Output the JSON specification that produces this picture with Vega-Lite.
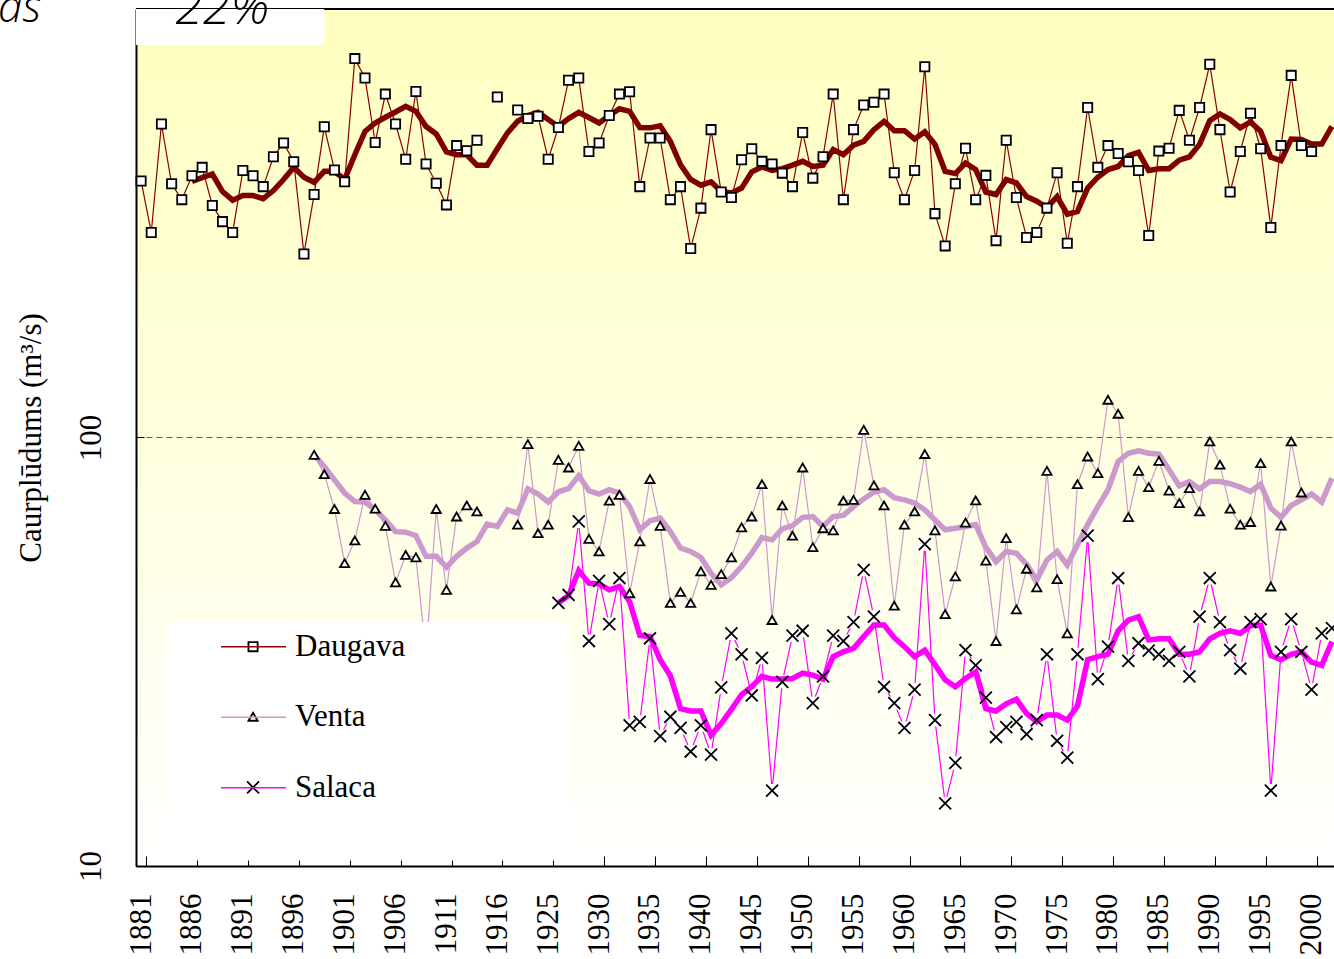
{
 "$schema": "https://vega.github.io/schema/vega-lite/v6.json",
 "width": 1198,
 "height": 857,
 "autosize": {"type": "none"},
 "padding": {"left": 136, "top": 9, "right": 0, "bottom": 93},
 "background": "white",
 "view": {"fill": {"gradient": "linear", "x1": 0, "y1": 0, "x2": 0, "y2": 1, "stops": [{"offset": 0, "color": "#FFFFC0"}, {"offset": 1, "color": "#FFFFFF"}]}, "stroke": null},
 "datasets": {
  "flows": [
   {"year":"1881","river":"Daugava","flow":397,"trend":null},
   {"year":"1882","river":"Daugava","flow":301,"trend":null},
   {"year":"1883","river":"Daugava","flow":539,"trend":null},
   {"year":"1884","river":"Daugava","flow":391,"trend":null},
   {"year":"1885","river":"Daugava","flow":359,"trend":null},
   {"year":"1886","river":"Daugava","flow":408,"trend":396},
   {"year":"1887","river":"Daugava","flow":427,"trend":404},
   {"year":"1888","river":"Daugava","flow":348,"trend":412},
   {"year":"1889","river":"Daugava","flow":319,"trend":375},
   {"year":"1890","river":"Daugava","flow":301,"trend":358},
   {"year":"1891","river":"Daugava","flow":420,"trend":367},
   {"year":"1892","river":"Daugava","flow":408,"trend":367},
   {"year":"1893","river":"Daugava","flow":385,"trend":361},
   {"year":"1894","river":"Daugava","flow":452,"trend":377},
   {"year":"1895","river":"Daugava","flow":487,"trend":400},
   {"year":"1896","river":"Daugava","flow":440,"trend":427},
   {"year":"1897","river":"Daugava","flow":268,"trend":405},
   {"year":"1898","river":"Daugava","flow":369,"trend":394},
   {"year":"1899","river":"Daugava","flow":531,"trend":418},
   {"year":"1900","river":"Daugava","flow":421,"trend":418},
   {"year":"1901","river":"Daugava","flow":395,"trend":400},
   {"year":"1902","river":"Daugava","flow":766,"trend":457},
   {"year":"1903","river":"Daugava","flow":690,"trend":518},
   {"year":"1904","river":"Daugava","flow":488,"trend":542},
   {"year":"1905","river":"Daugava","flow":633,"trend":559},
   {"year":"1906","river":"Daugava","flow":539,"trend":575},
   {"year":"1907","river":"Daugava","flow":446,"trend":593},
   {"year":"1908","river":"Daugava","flow":642,"trend":577},
   {"year":"1909","river":"Daugava","flow":435,"trend":532},
   {"year":"1910","river":"Daugava","flow":392,"trend":511},
   {"year":"1911","river":"Daugava","flow":349,"trend":464},
   {"year":"1912","river":"Daugava","flow":480,"trend":457},
   {"year":"1913","river":"Daugava","flow":467,"trend":457},
   {"year":"1914","river":"Daugava","flow":494,"trend":432},
   {"year":"1915","river":"Daugava","flow":null,"trend":432},
   {"year":"1916","river":"Daugava","flow":623,"trend":472},
   {"year":"1921","river":"Daugava","flow":null,"trend":514},
   {"year":"1922","river":"Daugava","flow":581,"trend":547},
   {"year":"1923","river":"Daugava","flow":555,"trend":564},
   {"year":"1924","river":"Daugava","flow":562,"trend":574},
   {"year":"1925","river":"Daugava","flow":446,"trend":552},
   {"year":"1926","river":"Daugava","flow":529,"trend":532},
   {"year":"1927","river":"Daugava","flow":682,"trend":555},
   {"year":"1928","river":"Daugava","flow":690,"trend":574},
   {"year":"1929","river":"Daugava","flow":465,"trend":558},
   {"year":"1930","river":"Daugava","flow":487,"trend":542},
   {"year":"1931","river":"Daugava","flow":564,"trend":564},
   {"year":"1932","river":"Daugava","flow":633,"trend":585},
   {"year":"1933","river":"Daugava","flow":641,"trend":577},
   {"year":"1934","river":"Daugava","flow":385,"trend":529},
   {"year":"1935","river":"Daugava","flow":500,"trend":528},
   {"year":"1936","river":"Daugava","flow":500,"trend":534},
   {"year":"1937","river":"Daugava","flow":359,"trend":491},
   {"year":"1938","river":"Daugava","flow":385,"trend":433},
   {"year":"1939","river":"Daugava","flow":276,"trend":400},
   {"year":"1940","river":"Daugava","flow":343,"trend":388},
   {"year":"1941","river":"Daugava","flow":523,"trend":395},
   {"year":"1942","river":"Daugava","flow":374,"trend":375},
   {"year":"1943","river":"Daugava","flow":363,"trend":372},
   {"year":"1944","river":"Daugava","flow":445,"trend":382},
   {"year":"1945","river":"Daugava","flow":472,"trend":417},
   {"year":"1946","river":"Daugava","flow":441,"trend":428},
   {"year":"1947","river":"Daugava","flow":435,"trend":420},
   {"year":"1948","river":"Daugava","flow":414,"trend":424},
   {"year":"1949","river":"Daugava","flow":385,"trend":432},
   {"year":"1950","river":"Daugava","flow":515,"trend":441},
   {"year":"1951","river":"Daugava","flow":403,"trend":429},
   {"year":"1952","river":"Daugava","flow":452,"trend":432},
   {"year":"1953","river":"Daugava","flow":633,"trend":470},
   {"year":"1954","river":"Daugava","flow":359,"trend":457},
   {"year":"1955","river":"Daugava","flow":523,"trend":481},
   {"year":"1956","river":"Daugava","flow":597,"trend":491},
   {"year":"1957","river":"Daugava","flow":606,"trend":523},
   {"year":"1958","river":"Daugava","flow":633,"trend":547},
   {"year":"1959","river":"Daugava","flow":415,"trend":520},
   {"year":"1960","river":"Daugava","flow":359,"trend":520},
   {"year":"1961","river":"Daugava","flow":420,"trend":497},
   {"year":"1962","river":"Daugava","flow":733,"trend":517},
   {"year":"1963","river":"Daugava","flow":333,"trend":483},
   {"year":"1964","river":"Daugava","flow":280,"trend":418},
   {"year":"1965","river":"Daugava","flow":391,"trend":413},
   {"year":"1966","river":"Daugava","flow":473,"trend":437},
   {"year":"1967","river":"Daugava","flow":359,"trend":422},
   {"year":"1968","river":"Daugava","flow":409,"trend":374},
   {"year":"1969","river":"Daugava","flow":288,"trend":369},
   {"year":"1970","river":"Daugava","flow":494,"trend":400},
   {"year":"1971","river":"Daugava","flow":363,"trend":393},
   {"year":"1972","river":"Daugava","flow":293,"trend":365},
   {"year":"1973","river":"Daugava","flow":301,"trend":356},
   {"year":"1974","river":"Daugava","flow":343,"trend":344},
   {"year":"1975","river":"Daugava","flow":415,"trend":365},
   {"year":"1976","river":"Daugava","flow":284,"trend":332},
   {"year":"1977","river":"Daugava","flow":385,"trend":337},
   {"year":"1978","river":"Daugava","flow":589,"trend":382},
   {"year":"1979","river":"Daugava","flow":427,"trend":405},
   {"year":"1980","river":"Daugava","flow":480,"trend":422},
   {"year":"1981","river":"Daugava","flow":460,"trend":429},
   {"year":"1982","river":"Daugava","flow":440,"trend":455},
   {"year":"1983","river":"Daugava","flow":420,"trend":463},
   {"year":"1984","river":"Daugava","flow":296,"trend":420},
   {"year":"1985","river":"Daugava","flow":466,"trend":424},
   {"year":"1986","river":"Daugava","flow":473,"trend":424},
   {"year":"1987","river":"Daugava","flow":580,"trend":444},
   {"year":"1988","river":"Daugava","flow":494,"trend":452},
   {"year":"1989","river":"Daugava","flow":589,"trend":483},
   {"year":"1990","river":"Daugava","flow":743,"trend":549},
   {"year":"1991","river":"Daugava","flow":523,"trend":569},
   {"year":"1992","river":"Daugava","flow":374,"trend":552},
   {"year":"1993","river":"Daugava","flow":465,"trend":528},
   {"year":"1994","river":"Daugava","flow":571,"trend":545},
   {"year":"1995","river":"Daugava","flow":472,"trend":518},
   {"year":"1996","river":"Daugava","flow":309,"trend":451},
   {"year":"1997","river":"Daugava","flow":480,"trend":443},
   {"year":"1998","river":"Daugava","flow":700,"trend":497},
   {"year":"1999","river":"Daugava","flow":480,"trend":496},
   {"year":"2000","river":"Daugava","flow":465,"trend":484},
   {"year":"2001","river":"Daugava","flow":null,"trend":484},
   {"year":"2002","river":"Daugava","flow":null,"trend":532},
   {"year":"1898","river":"Venta","flow":91.1,"trend":91.1},
   {"year":"1899","river":"Venta","flow":82.1,"trend":85.6},
   {"year":"1900","river":"Venta","flow":68.1,"trend":79.6},
   {"year":"1901","river":"Venta","flow":50.9,"trend":74.2},
   {"year":"1902","river":"Venta","flow":57.5,"trend":70.9},
   {"year":"1903","river":"Venta","flow":73.5,"trend":70.7},
   {"year":"1904","river":"Venta","flow":68.2,"trend":67.8},
   {"year":"1905","river":"Venta","flow":62.2,"trend":64.2},
   {"year":"1906","river":"Venta","flow":45.9,"trend":60.3},
   {"year":"1907","river":"Venta","flow":53.2,"trend":60.1},
   {"year":"1908","river":"Venta","flow":52.5,"trend":59.0},
   {"year":"1909","river":"Venta","flow":31.3,"trend":52.8},
   {"year":"1910","river":"Venta","flow":68.1,"trend":52.8},
   {"year":"1911","river":"Venta","flow":44.1,"trend":49.8},
   {"year":"1912","river":"Venta","flow":65.4,"trend":52.8},
   {"year":"1913","river":"Venta","flow":69.4,"trend":55.2},
   {"year":"1914","river":"Venta","flow":67.2,"trend":57.2},
   {"year":"1915","river":"Venta","flow":null,"trend":62.8},
   {"year":"1916","river":"Venta","flow":null,"trend":62.0},
   {"year":"1921","river":"Venta","flow":null,"trend":67.8},
   {"year":"1922","river":"Venta","flow":62.6,"trend":66.6},
   {"year":"1923","river":"Venta","flow":96.5,"trend":75.9},
   {"year":"1924","river":"Venta","flow":59.8,"trend":73.8},
   {"year":"1925","river":"Venta","flow":62.6,"trend":70.7},
   {"year":"1926","river":"Venta","flow":88.7,"trend":74.7},
   {"year":"1927","river":"Venta","flow":85.1,"trend":76.0},
   {"year":"1928","river":"Venta","flow":95.6,"trend":81.5},
   {"year":"1929","river":"Venta","flow":58.0,"trend":75.1},
   {"year":"1930","river":"Venta","flow":54.2,"trend":73.8},
   {"year":"1931","river":"Venta","flow":71.2,"trend":75.5},
   {"year":"1932","river":"Venta","flow":73.5,"trend":74.2},
   {"year":"1933","river":"Venta","flow":43.3,"trend":69.0},
   {"year":"1934","river":"Venta","flow":57.2,"trend":60.9},
   {"year":"1935","river":"Venta","flow":80.0,"trend":63.9},
   {"year":"1936","river":"Venta","flow":62.2,"trend":64.8},
   {"year":"1937","river":"Venta","flow":41.1,"trend":60.3},
   {"year":"1938","river":"Venta","flow":43.6,"trend":55.2},
   {"year":"1939","river":"Venta","flow":41.1,"trend":54.2},
   {"year":"1940","river":"Venta","flow":48.7,"trend":52.5},
   {"year":"1941","river":"Venta","flow":45.3,"trend":48.2},
   {"year":"1942","river":"Venta","flow":48.0,"trend":45.3},
   {"year":"1943","river":"Venta","flow":52.5,"trend":47.1},
   {"year":"1944","river":"Venta","flow":61.7,"trend":50.0},
   {"year":"1945","river":"Venta","flow":65.4,"trend":53.7},
   {"year":"1946","river":"Venta","flow":77.8,"trend":58.4},
   {"year":"1947","river":"Venta","flow":37.5,"trend":57.7},
   {"year":"1948","river":"Venta","flow":69.4,"trend":61.2},
   {"year":"1949","river":"Venta","flow":59.0,"trend":62.3},
   {"year":"1950","river":"Venta","flow":85.1,"trend":65.1},
   {"year":"1951","river":"Venta","flow":55.5,"trend":65.4},
   {"year":"1952","river":"Venta","flow":61.4,"trend":62.0},
   {"year":"1953","river":"Venta","flow":60.7,"trend":65.4},
   {"year":"1954","river":"Venta","flow":71.2,"trend":65.8},
   {"year":"1955","river":"Venta","flow":71.5,"trend":69.0},
   {"year":"1956","river":"Venta","flow":104.2,"trend":71.9},
   {"year":"1957","river":"Venta","flow":77.3,"trend":74.6},
   {"year":"1958","river":"Venta","flow":69.4,"trend":75.5},
   {"year":"1959","river":"Venta","flow":40.5,"trend":72.4},
   {"year":"1960","river":"Venta","flow":62.6,"trend":71.5},
   {"year":"1961","river":"Venta","flow":67.2,"trend":70.3},
   {"year":"1962","river":"Venta","flow":91.5,"trend":67.8},
   {"year":"1963","river":"Venta","flow":60.7,"trend":64.2},
   {"year":"1964","river":"Venta","flow":38.7,"trend":60.9},
   {"year":"1965","river":"Venta","flow":47.4,"trend":61.4},
   {"year":"1966","river":"Venta","flow":63.3,"trend":62.0},
   {"year":"1967","river":"Venta","flow":71.3,"trend":62.6},
   {"year":"1968","river":"Venta","flow":51.6,"trend":55.4},
   {"year":"1969","river":"Venta","flow":33.5,"trend":51.3},
   {"year":"1970","river":"Venta","flow":58.2,"trend":54.2},
   {"year":"1971","river":"Venta","flow":39.7,"trend":53.7},
   {"year":"1972","river":"Venta","flow":49.4,"trend":50.6},
   {"year":"1973","river":"Venta","flow":44.7,"trend":46.5},
   {"year":"1974","river":"Venta","flow":83.6,"trend":51.8},
   {"year":"1975","river":"Venta","flow":46.7,"trend":54.2},
   {"year":"1976","river":"Venta","flow":34.9,"trend":50.4},
   {"year":"1977","river":"Venta","flow":77.8,"trend":56.2},
   {"year":"1978","river":"Venta","flow":90.3,"trend":62.6},
   {"year":"1979","river":"Venta","flow":82.6,"trend":69.0},
   {"year":"1980","river":"Venta","flow":122.5,"trend":75.5},
   {"year":"1981","river":"Venta","flow":113.6,"trend":87.9},
   {"year":"1982","river":"Venta","flow":65.2,"trend":91.9},
   {"year":"1983","river":"Venta","flow":83.6,"trend":93.1},
   {"year":"1984","river":"Venta","flow":76.6,"trend":91.9},
   {"year":"1985","river":"Venta","flow":88.2,"trend":91.5},
   {"year":"1986","river":"Venta","flow":75.2,"trend":84.1},
   {"year":"1987","river":"Venta","flow":70.3,"trend":77.1},
   {"year":"1988","river":"Venta","flow":76.2,"trend":78.9},
   {"year":"1989","river":"Venta","flow":67.2,"trend":75.9},
   {"year":"1990","river":"Venta","flow":97.9,"trend":78.9},
   {"year":"1991","river":"Venta","flow":86.4,"trend":78.9},
   {"year":"1992","river":"Venta","flow":68.2,"trend":78.0},
   {"year":"1993","river":"Venta","flow":62.6,"trend":76.6},
   {"year":"1994","river":"Venta","flow":63.5,"trend":74.8},
   {"year":"1995","river":"Venta","flow":87.1,"trend":77.8},
   {"year":"1996","river":"Venta","flow":44.9,"trend":68.4},
   {"year":"1997","river":"Venta","flow":62.3,"trend":65.1},
   {"year":"1998","river":"Venta","flow":97.9,"trend":69.4},
   {"year":"1999","river":"Venta","flow":74.4,"trend":71.5},
   {"year":"2000","river":"Venta","flow":null,"trend":73.8},
   {"year":"2001","river":"Venta","flow":null,"trend":70.7},
   {"year":"2002","river":"Venta","flow":null,"trend":80.4},
   {"year":"1926","river":"Salaca","flow":41.1,"trend":41.1},
   {"year":"1927","river":"Salaca","flow":42.9,"trend":42.8},
   {"year":"1928","river":"Salaca","flow":63.7,"trend":48.9},
   {"year":"1929","river":"Salaca","flow":33.5,"trend":45.7},
   {"year":"1930","river":"Salaca","flow":46.3,"trend":45.5},
   {"year":"1931","river":"Salaca","flow":36.7,"trend":44.1},
   {"year":"1932","river":"Salaca","flow":47.0,"trend":44.9},
   {"year":"1933","river":"Salaca","flow":21.3,"trend":41.4},
   {"year":"1934","river":"Salaca","flow":21.7,"trend":34.5},
   {"year":"1935","river":"Salaca","flow":34.0,"trend":34.3},
   {"year":"1936","river":"Salaca","flow":20.1,"trend":30.3},
   {"year":"1937","river":"Salaca","flow":22.3,"trend":27.8},
   {"year":"1938","river":"Salaca","flow":21.0,"trend":23.3},
   {"year":"1939","river":"Salaca","flow":18.5,"trend":23.0},
   {"year":"1940","river":"Salaca","flow":21.3,"trend":23.0},
   {"year":"1941","river":"Salaca","flow":18.2,"trend":20.2},
   {"year":"1942","river":"Salaca","flow":26.1,"trend":21.5},
   {"year":"1943","river":"Salaca","flow":34.9,"trend":23.2},
   {"year":"1944","river":"Salaca","flow":31.2,"trend":25.1},
   {"year":"1945","river":"Salaca","flow":25.0,"trend":26.2},
   {"year":"1946","river":"Salaca","flow":30.6,"trend":27.7},
   {"year":"1947","river":"Salaca","flow":15.0,"trend":27.3},
   {"year":"1948","river":"Salaca","flow":26.9,"trend":27.3},
   {"year":"1949","river":"Salaca","flow":34.5,"trend":27.4},
   {"year":"1950","river":"Salaca","flow":35.4,"trend":28.2},
   {"year":"1951","river":"Salaca","flow":24.0,"trend":27.9},
   {"year":"1952","river":"Salaca","flow":27.7,"trend":27.3},
   {"year":"1953","river":"Salaca","flow":34.5,"trend":30.8},
   {"year":"1954","river":"Salaca","flow":33.5,"trend":31.6},
   {"year":"1955","river":"Salaca","flow":37.1,"trend":32.2},
   {"year":"1956","river":"Salaca","flow":49.1,"trend":34.3},
   {"year":"1957","river":"Salaca","flow":38.2,"trend":36.5},
   {"year":"1958","river":"Salaca","flow":26.2,"trend":36.5},
   {"year":"1959","river":"Salaca","flow":24.0,"trend":34.1},
   {"year":"1960","river":"Salaca","flow":21.0,"trend":32.5},
   {"year":"1961","river":"Salaca","flow":25.8,"trend":30.8},
   {"year":"1962","river":"Salaca","flow":56.4,"trend":31.9},
   {"year":"1963","river":"Salaca","flow":21.9,"trend":29.5},
   {"year":"1964","river":"Salaca","flow":14.0,"trend":27.2},
   {"year":"1965","river":"Salaca","flow":17.4,"trend":26.2},
   {"year":"1966","river":"Salaca","flow":31.9,"trend":27.4},
   {"year":"1967","river":"Salaca","flow":29.4,"trend":28.4},
   {"year":"1968","river":"Salaca","flow":24.7,"trend":23.3},
   {"year":"1969","river":"Salaca","flow":20.0,"trend":23.0},
   {"year":"1970","river":"Salaca","flow":21.1,"trend":23.9},
   {"year":"1971","river":"Salaca","flow":21.7,"trend":24.5},
   {"year":"1972","river":"Salaca","flow":20.3,"trend":22.7},
   {"year":"1973","river":"Salaca","flow":21.9,"trend":21.7},
   {"year":"1974","river":"Salaca","flow":31.2,"trend":22.5},
   {"year":"1975","river":"Salaca","flow":19.6,"trend":22.5},
   {"year":"1976","river":"Salaca","flow":17.9,"trend":21.9},
   {"year":"1977","river":"Salaca","flow":31.2,"trend":23.6},
   {"year":"1978","river":"Salaca","flow":59.0,"trend":30.3},
   {"year":"1979","river":"Salaca","flow":27.3,"trend":30.8},
   {"year":"1980","river":"Salaca","flow":32.5,"trend":31.2},
   {"year":"1981","river":"Salaca","flow":47.0,"trend":35.4},
   {"year":"1982","river":"Salaca","flow":30.1,"trend":37.5},
   {"year":"1983","river":"Salaca","flow":33.1,"trend":38.2},
   {"year":"1984","river":"Salaca","flow":31.8,"trend":33.7},
   {"year":"1985","river":"Salaca","flow":31.2,"trend":33.9},
   {"year":"1986","river":"Salaca","flow":30.1,"trend":33.9},
   {"year":"1987","river":"Salaca","flow":31.6,"trend":31.2},
   {"year":"1988","river":"Salaca","flow":27.7,"trend":31.2},
   {"year":"1989","river":"Salaca","flow":38.2,"trend":31.6},
   {"year":"1990","river":"Salaca","flow":47.0,"trend":33.9},
   {"year":"1991","river":"Salaca","flow":37.1,"trend":34.9},
   {"year":"1992","river":"Salaca","flow":31.9,"trend":35.4},
   {"year":"1993","river":"Salaca","flow":28.9,"trend":34.9},
   {"year":"1994","river":"Salaca","flow":37.1,"trend":36.4},
   {"year":"1995","river":"Salaca","flow":37.7,"trend":36.5},
   {"year":"1996","river":"Salaca","flow":15.0,"trend":31.0},
   {"year":"1997","river":"Salaca","flow":31.6,"trend":30.3},
   {"year":"1998","river":"Salaca","flow":37.7,"trend":31.2},
   {"year":"1999","river":"Salaca","flow":31.6,"trend":31.6},
   {"year":"2000","river":"Salaca","flow":25.8,"trend":29.9},
   {"year":"2001","river":"Salaca","flow":34.9,"trend":29.4},
   {"year":"2002","river":"Salaca","flow":35.9,"trend":33.4}
  ],
  "boxes": [
   {"year":"1881","year_end":"1899","lo":824,"hi":1000},
   {"year":"1884","year_end":"1927","lo":10.3,"hi":37.1}
  ],
  "border": [{"top": 1000}],
  "keymarks": [
   {"year":"1892","river":"Daugava","level":32.5},
   {"year":"1892","river":"Venta","level":22.3},
   {"year":"1892","river":"Salaca","level":15.25}
  ],
  "notes": [{"year":"1889","level":923,"label":"22%"}],
  "notesleft": [{"year":"1881","level":933,"label":"as"}]
 },
 "layer": [
  {
   "data": {"name": "flows"},
   "mark": {"type": "line", "strokeWidth": 1.2},
   "encoding": {
    "x": {"field": "year", "type": "ordinal",
      "scale": {"type": "band", "paddingInner": 0, "paddingOuter": 0, "rangeMax": 1201},
      "axis": {"title": null, "values": ["1881","1886","1891","1896","1901","1906","1911","1916","1925","1930","1935","1940","1945","1950","1955","1960","1965","1970","1975","1980","1985","1990","1995","2000"],
        "labelAngle": 270, "labelOverlap": false, "labelFont": "Liberation Serif", "labelFontSize": 31, "labelColor": "black",
        "labelPadding": 37, "ticks": true, "tickSize": -10, "tickColor": "black", "tickWidth": 1, "tickBand": "extent",
        "domainColor": "black", "domainWidth": 2, "grid": false}},
    "y": {"field": "flow", "type": "quantitative",
      "scale": {"type": "log", "domain": [10, 1000], "nice": false},
      "axis": {"title": "Caurplūdums (m³/s)", "values": [10, 100], "format": "d",
        "labelAngle": 270, "labelAlign": "center", "labelBaseline": "alphabetic",
        "labelFont": "Liberation Serif", "labelFontSize": 31, "labelColor": "black", "labelPadding": 44,
        "ticks": true, "tickSize": -8, "tickColor": "black", "tickWidth": 1,
        "grid": true, "gridDash": [6, 4], "gridColor": "#606060", "gridWidth": 1,
        "domainColor": "black", "domainWidth": 2,
        "titleFont": "Liberation Serif", "titleFontSize": 31, "titleFontWeight": "normal", "titleColor": "black", "titlePadding": 28}},
    "color": {"field": "river", "type": "nominal",
      "scale": {"domain": ["Daugava", "Venta", "Salaca"], "range": ["#8B0000", "#CC99CC", "#FF00FF"]},
      "legend": {"orient": "none", "legendX": 84, "legendY": 617.7, "title": null, "direction": "vertical",
        "symbolType": "M-1,0H1", "symbolSize": 4225, "symbolStrokeWidth": 1.5,
        "clipHeight": 40, "rowPadding": 30.5, "padding": 0,
        "labelFont": "Liberation Serif", "labelFontSize": 31, "labelColor": "black", "labelOffset": 8, "labelLimit": 300,
        "zindex": 1}}
   }
  },
  {
   "data": {"name": "flows"},
   "transform": [{"filter": "datum.river === 'Salaca'"}],
   "mark": {"type": "point", "shape": "square", "size": 170, "filled": true, "color": "white", "opacity": 1},
   "encoding": {
    "x": {"field": "year", "type": "ordinal"},
    "y": {"field": "flow", "type": "quantitative"}
   }
  },
  {
   "data": {"name": "flows"},
   "mark": {"type": "line", "strokeWidth": 5.5},
   "encoding": {
    "x": {"field": "year", "type": "ordinal"},
    "y": {"field": "trend", "type": "quantitative"},
    "stroke": {"field": "river", "type": "nominal",
      "scale": {"domain": ["Daugava", "Venta", "Salaca"], "range": ["#800000", "#CC99CC", "#FF00FF"]},
      "legend": null}
   }
  },
  {
   "data": {"name": "flows"},
   "mark": {"type": "point", "size": 85, "filled": false, "color": "black", "fill": "white", "stroke": "black", "strokeWidth": 1.8, "opacity": 1},
   "encoding": {
    "x": {"field": "year", "type": "ordinal"},
    "y": {"field": "flow", "type": "quantitative"},
    "shape": {"field": "river", "type": "nominal", "sort": ["Daugava", "Venta", "Salaca"],
      "scale": {"range": ["square", "triangle-up", "M-1.3,-1.3L1.3,1.3M1.3,-1.3L-1.3,1.3"]},
      "legend": null}
   }
  },
  {
   "data": {"name": "border"},
   "mark": {"type": "rule", "color": "black", "strokeWidth": 2},
   "encoding": {"y": {"field": "top", "type": "quantitative"}}
  },
  {
   "data": {"name": "boxes"},
   "mark": {"type": "rect", "color": "white", "opacity": 1},
   "encoding": {
    "x": {"field": "year", "type": "ordinal", "bandPosition": 0},
    "x2": {"field": "year_end"},
    "y": {"field": "lo", "type": "quantitative"},
    "y2": {"field": "hi"}
   }
  },
  {
   "data": {"name": "keymarks"},
   "transform": [{"filter": "datum.river === 'Salaca'"}],
   "mark": {"type": "point", "shape": "square", "size": 300, "filled": true, "color": "white", "opacity": 1},
   "encoding": {
    "x": {"field": "year", "type": "ordinal"},
    "y": {"field": "level", "type": "quantitative"}
   }
  },
  {
   "data": {"name": "keymarks"},
   "mark": {"type": "point", "size": 85, "filled": false, "color": "black", "fill": "white", "stroke": "black", "strokeWidth": 1.8, "opacity": 1},
   "encoding": {
    "x": {"field": "year", "type": "ordinal"},
    "y": {"field": "level", "type": "quantitative"},
    "shape": {"field": "river", "type": "nominal", "sort": ["Daugava", "Venta", "Salaca"], "legend": null}
   }
  },
  {
   "data": {"name": "notes"},
   "mark": {"type": "text", "font": "Open Sans", "fontSize": 50, "fontStyle": "italic", "fontWeight": 300, "color": "black", "align": "center", "baseline": "alphabetic"},
   "encoding": {
    "x": {"field": "year", "type": "ordinal"},
    "y": {"field": "level", "type": "quantitative"},
    "text": {"field": "label"}
   }
  },
  {
   "data": {"name": "notesleft"},
   "mark": {"type": "text", "font": "Open Sans", "fontSize": 44, "fontStyle": "italic", "fontWeight": 300, "color": "black", "align": "left", "baseline": "alphabetic", "dx": -138},
   "encoding": {
    "x": {"field": "year", "type": "ordinal", "bandPosition": 0},
    "y": {"field": "level", "type": "quantitative"},
    "text": {"field": "label"}
   }
  }
 ]
}
